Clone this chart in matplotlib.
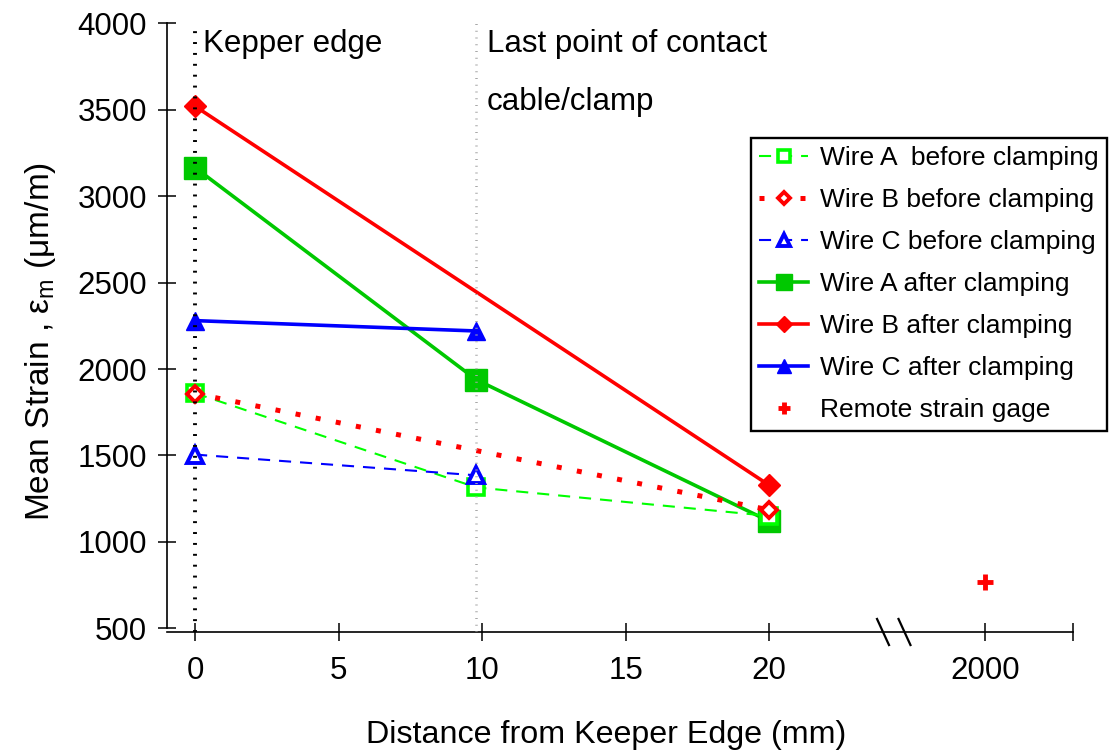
import numpy as np
import matplotlib
matplotlib.use('Agg')
import matplotlib.pyplot as plt

# --- fonts ---
plt.rcParams['font.family'] = ['Liberation Sans', 'DejaVu Sans']
plt.rcParams['mathtext.fontset'] = 'custom'
plt.rcParams['mathtext.rm'] = 'Liberation Sans'
plt.rcParams['mathtext.it'] = 'Liberation Sans:italic'

# --- data (distance mm, mean strain um/m) ---
x_a = [0, 9.8, 20]
wire_a_before = [1860, 1315, 1150]
wire_a_after = [3165, 1938, 1120]

x_b = [0, 20]
wire_b_before = [1858, 1185]
wire_b_after = [3520, 1328]

x_c = [0, 9.8]
wire_c_before = [1505, 1385]
wire_c_after = [2280, 2220]

x_remote = [2000]
remote_gage = [770]

x_ticks = [0, 5, 10, 15, 20, 2000]
y_ticks = [500, 1000, 1500, 2000, 2500, 3000, 3500, 4000]

# --- broken x scale: linear up to the break, then compressed ---
BRK = 24.4
FAR_POS = 27.53
K = (FAR_POS - BRK) / (2000 - BRK)


def fwd(x):
    x = np.asarray(x, dtype=float)
    return np.where(x <= BRK, x, BRK + (x - BRK) * K)


def inv(t):
    t = np.asarray(t, dtype=float)
    return np.where(t <= BRK, t, BRK + (t - BRK) / K)


fig = plt.figure(figsize=(11.12, 7.54), dpi=100)
ax = fig.add_axes([0.1499, 0.1618, 0.815, 0.8073])
ax.set_xscale('function', functions=(fwd, inv))

x_right = float(inv(30.59))
ax.set_xlim(-0.99, x_right)
ax.set_ylim(478.6, 4000)

GREEN = '#00c800'
LIME = '#00ff00'

# after clamping
hA, = ax.plot(x_a, wire_a_after, color=GREEN, lw=2.6, marker='s', ms=15.5,
              label='Wire A after clamping', zorder=2)
hB, = ax.plot(x_b, wire_b_after, color='red', lw=2.6, marker='D', ms=11,
              label='Wire B after clamping', zorder=2)
hC, = ax.plot(x_c, wire_c_after, color='blue', lw=2.6, marker='^', ms=13.5,
              label='Wire C after clamping', zorder=2)

# before clamping
ha, = ax.plot(x_a, wire_a_before, color=LIME, lw=1.5, ls=(0, (5.8, 4.3)),
              marker='s', ms=12, mfc='white', mec=LIME, mew=2.6,
              label='Wire A  before clamping', zorder=3)
hb, = ax.plot(x_b, wire_b_before, color='red', lw=3.6, ls=(0, (1, 3.1)),
              dash_capstyle='butt',
              marker='D', ms=8, mfc='white', mec='red', mew=2.8,
              label='Wire B before clamping', zorder=3)
hc, = ax.plot(x_c, wire_c_before, color='blue', lw=1.5, ls=(0, (5.8, 4.3)),
              marker='^', ms=12, mfc='white', mec='blue', mew=2.8,
              label='Wire C before clamping', zorder=3)

hr, = ax.plot(x_remote, remote_gage, ls='none', marker='+', ms=12, mew=3.5,
              color='red', label='Remote strain gage', zorder=3)

# reference lines
ax.axvline(0, color='black', lw=2.8, ls=(0, (0.5, 2.3)), zorder=4)
ax.axvline(9.8, color='#a8a8a8', lw=1.8, ls=(0, (0.4, 2.3)), zorder=4)

ax.text(0.28, 3836, 'Kepper edge', fontsize=22.5, va='baseline', ha='left')
ax.text(10.17, 3836, 'Last point of contact', fontsize=22.5, va='baseline', ha='left')
ax.text(10.17, 3500, 'cable/clamp', fontsize=22.5, va='baseline', ha='left')

# axes styling
ax.spines['top'].set_visible(False)
ax.spines['right'].set_visible(False)
ax.spines['left'].set_bounds(500, 4000)
for s in ('left', 'bottom'):
    ax.spines[s].set_linewidth(1.2)

ax.set_xticks(x_ticks + [x_right * 0.9999])
ax.set_xticklabels([str(v) for v in x_ticks] + [''])
ax.set_yticks(y_ticks)
ax.tick_params(direction='inout', length=13, width=1.1, labelsize=22.5)
ax.tick_params(axis='x', pad=10.5)
ax.tick_params(axis='y', pad=7.5)

# axis break marks
for bx in (0.7904, 0.8141):
    ax.plot([bx - 0.0066, bx + 0.0066], [0.0214, -0.0214], color='black', lw=1.6,
            transform=ax.transAxes, clip_on=False, zorder=5)

ax.set_xlabel('Distance from Keeper Edge (mm)', fontsize=23.2)
ax.xaxis.set_label_coords(0.4847, -0.144)
ax.set_ylabel('Mean Strain , ε$_{\\mathrm{m}}$ (μm/m)', fontsize=24)
ax.yaxis.set_label_coords(-0.1195, 0.478)

leg = ax.legend(handles=[ha, hb, hc, hA, hB, hC, hr], loc='upper left',
                bbox_to_anchor=(751 / 1112, 1 - 138 / 754),
                bbox_transform=fig.transFigure, borderaxespad=0,
                fontsize=19, markerscale=0.75, handlelength=1.85,
                handletextpad=0.45, labelspacing=0.68, borderpad=0.32,
                fancybox=False, framealpha=1, edgecolor='black')
leg.get_frame().set_linewidth(1.7)

fig.savefig('out.png', dpi=100)
